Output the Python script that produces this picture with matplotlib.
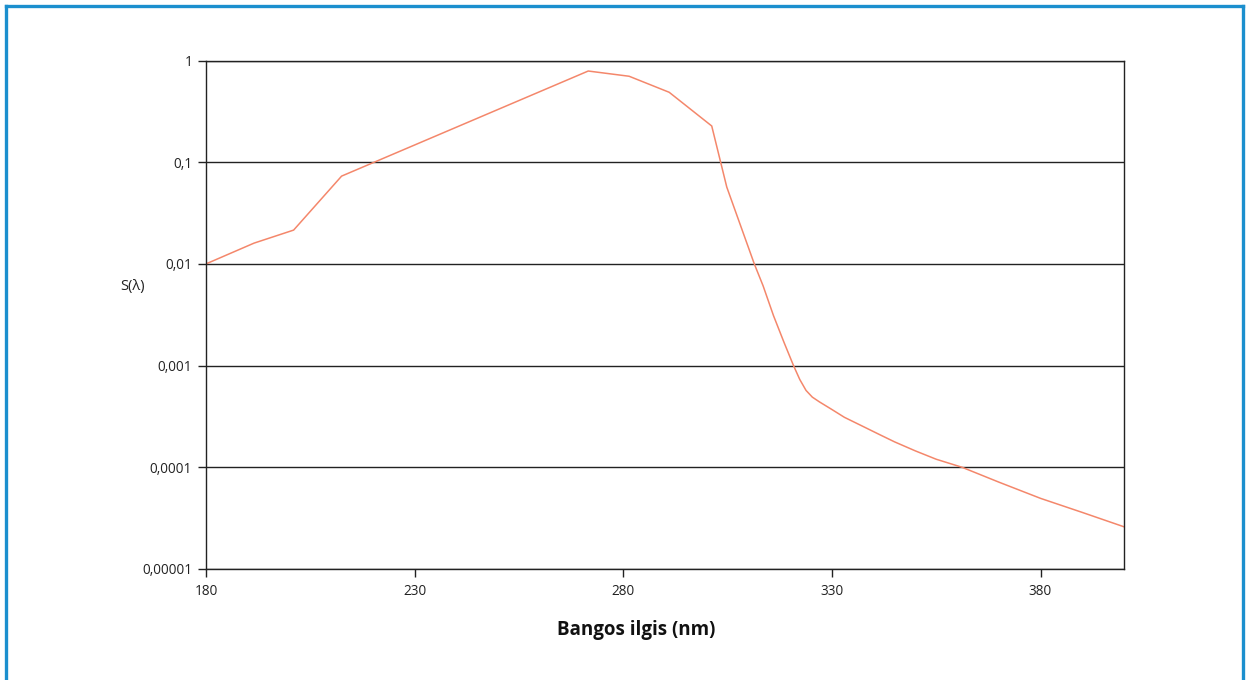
import matplotlib
matplotlib.use('Agg')
import matplotlib.pyplot as plt
from matplotlib.lines import Line2D

# values (wavelength in nm, relative spectral effectiveness)
wavelength = [180, 191.5, 201, 212.5, 271.6, 281.4, 291, 301.2, 304.8, 308, 311.4,
              313.5, 316, 318.5, 320.8, 322.3, 323.8, 325.3, 327, 330, 333, 336.8,
              341.6, 345, 350, 355, 361.2, 370, 380, 390, 400]
s_lambda = [0.01, 0.016, 0.0215, 0.073, 0.788, 0.70, 0.487, 0.227, 0.057, 0.0245, 0.01,
            0.0061, 0.0031, 0.0017, 0.001, 0.00073, 0.00057, 0.00049, 0.00044, 0.00037,
            0.00031, 0.00026, 0.000208, 0.000178, 0.000145, 0.000120, 0.0001,
            0.0000715, 0.0000495, 0.0000360, 0.000026]

x_ticks = [180, 230, 280, 330, 380]
y_ticks = [1, 0.1, 0.01, 0.001, 0.0001, 0.00001]
y_tick_labels = ['1', '0,1', '0,01', '0,001', '0,0001', '0,00001']

plt.rcParams['font.family'] = ['Open Sans', 'DejaVu Sans']

fig = plt.figure(figsize=(12.48, 6.80), dpi=100)
ax = fig.add_axes([206 / 1248, 1 - 569 / 680, (1124 - 206) / 1248, (569 - 60.5) / 680])

ax.plot(wavelength, s_lambda, color='#f4876b', linewidth=1.1)

ax.set_yscale('log')
ax.set_xlim(180, 400)
ax.set_ylim(1e-5, 1)
ax.set_xticks(x_ticks)
ax.set_xticklabels([str(v) for v in x_ticks])
ax.set_yticks(y_ticks)
ax.set_yticklabels(y_tick_labels)
ax.minorticks_off()
ax.tick_params(axis='both', labelsize=9.8, length=6, width=1, color='#222222',
               direction='out', pad=4, labelcolor='#222222')
ax.tick_params(axis='x', pad=5)

ax.grid(True, axis='y', color='#222222', linewidth=1)
ax.set_axisbelow(True)
for sp in ax.spines.values():
    sp.set_color('#222222')
    sp.set_linewidth(1)

fig.text(133 / 1248, 1 - 286 / 680, 'S(λ)', ha='center', va='center', fontsize=10.5, color='#222222')
fig.text(636 / 1248, 1 - 630 / 680, 'Bangos ilgis (nm)', ha='center', va='center',
         fontsize=13.5, fontweight='bold', color='#111111')

# blue frame around the figure (left, top, right)
blue = '#1b8fce'
for xs, ys in [([5.5 / 1248, 5.5 / 1248], [0, 1 - 5.5 / 680]),
               ([5.5 / 1248, 1243 / 1248], [1 - 5.5 / 680, 1 - 5.5 / 680]),
               ([1243 / 1248, 1243 / 1248], [0, 1 - 5.5 / 680])]:
    fig.add_artist(Line2D(xs, ys, transform=fig.transFigure, color=blue, linewidth=2.4))

fig.savefig('out.png', dpi=100)
